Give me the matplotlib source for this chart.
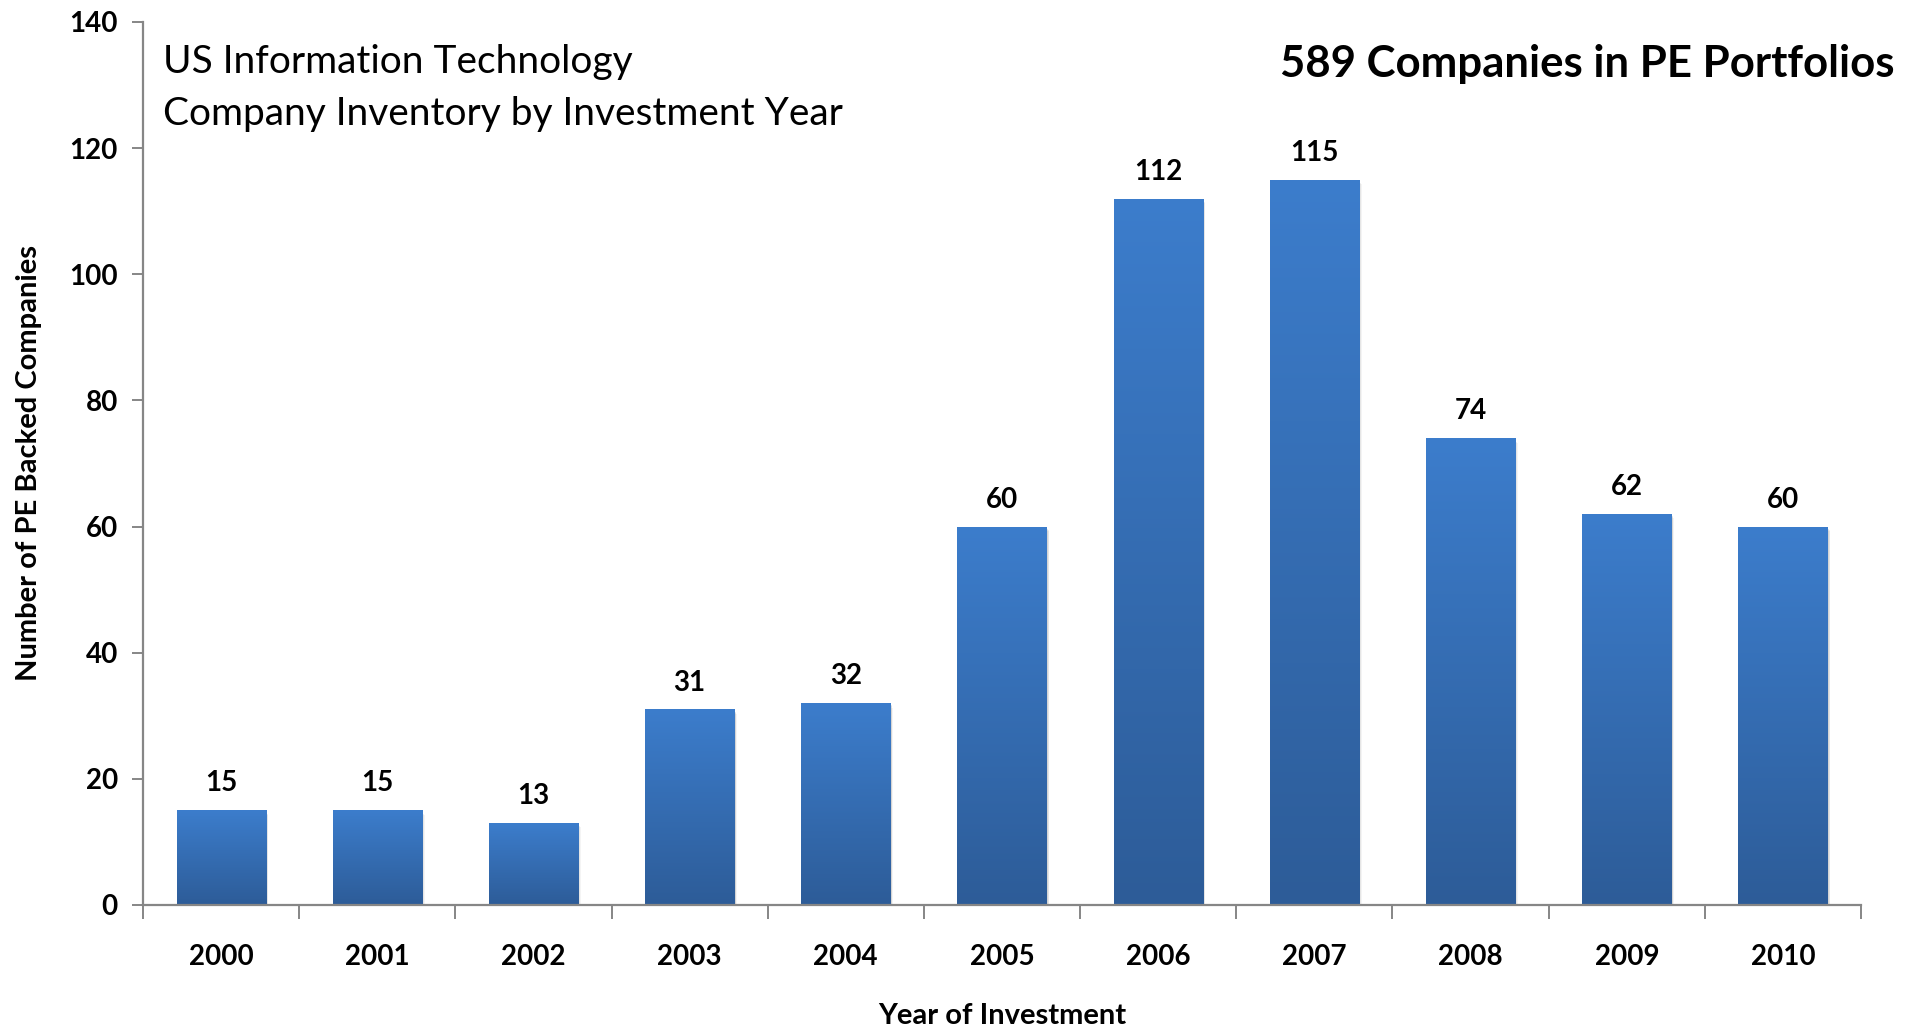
import numpy as np
import matplotlib.pyplot as plt
import matplotlib.transforms as mtransforms
from matplotlib.colors import LinearSegmentedColormap

plt.rcParams['font.family'] = ['Lato', 'DejaVu Sans']

# Investment years and number of PE backed IT companies per year
years = ['2000', '2001', '2002', '2003', '2004', '2005',
         '2006', '2007', '2008', '2009', '2010']
companies = [15, 15, 13, 31, 32, 60, 112, 115, 74, 62, 60]
y_ticks = [0, 20, 40, 60, 80, 100, 120, 140]

title_lines = 'US Information Technology\nCompany Inventory by Investment Year'
total_note = '589 Companies in PE Portfolios'

fig = plt.figure(figsize=(19.21, 10.27), dpi=100)
ax = fig.add_axes([0.0744, 0.1188, 0.8944, 0.8598])

x = np.arange(len(years))
bars = ax.bar(x, companies, width=0.57, color='#3a76c4', zorder=2)

# vertical gradient fill for each bar, plus a soft drop shadow
grad_cmap = LinearSegmentedColormap.from_list('barfill', ['#2d5c98', '#3c7dcc'])
grad = np.linspace(0, 1, 256).reshape(-1, 1)
for b in bars:
    x0, w, h = b.get_x(), b.get_width(), b.get_height()
    for k, a in zip([4, 3, 2], [0.08, 0.12, 0.16]):
        off = mtransforms.offset_copy(ax.transData, fig=fig, x=k * 0.5, y=-k * 0.8, units='points')
        ax.add_patch(plt.Rectangle((x0, 0), w, h, transform=off, facecolor='#7f7f7f',
                                   edgecolor='none', alpha=a, zorder=1))
    im = ax.imshow(grad, cmap=grad_cmap, origin='lower', aspect='auto',
                   extent=(x0, x0 + w, 0, h), zorder=2.5)
    im.set_clip_path(b)
    ax.annotate(str(int(h)), (x0 + w / 2, h), xytext=(0, 10), textcoords='offset points',
                ha='center', va='bottom', fontsize=20, fontweight='bold', color='black')

ax.set_xlim(-0.5, len(years) - 0.5)
ax.set_ylim(0, 140)
ax.set_yticks(y_ticks)
ax.set_xticks(x)
ax.set_xticklabels(years)
ax.set_xticks(np.arange(-0.5, len(years)), minor=True)

for s in ['top', 'right']:
    ax.spines[s].set_visible(False)
for s in ['left', 'bottom']:
    ax.spines[s].set_color('#868686')
    ax.spines[s].set_linewidth(1.6)

ax.tick_params(axis='y', length=8, width=1.4, color='#868686', pad=10,
               labelsize=20)
ax.tick_params(axis='x', which='major', length=0, pad=28, labelsize=20)
ax.tick_params(axis='x', which='minor', length=10, width=1.4, color='#868686')
for lab in ax.get_xticklabels() + ax.get_yticklabels():
    lab.set_fontweight('bold')

ax.set_ylabel('Number of PE Backed Companies', fontsize=21, fontweight='bold', labelpad=20)
ax.set_xlabel('Year of Investment', fontsize=21, fontweight='bold', labelpad=24)

fig.text(0.085, 0.957, title_lines, fontsize=28, ha='left', va='top', linespacing=1.55)
fig.text(0.986, 0.938, total_note, fontsize=31.5, fontweight='bold', ha='right', va='center')

fig.savefig('out.png', dpi=100, facecolor='white')
